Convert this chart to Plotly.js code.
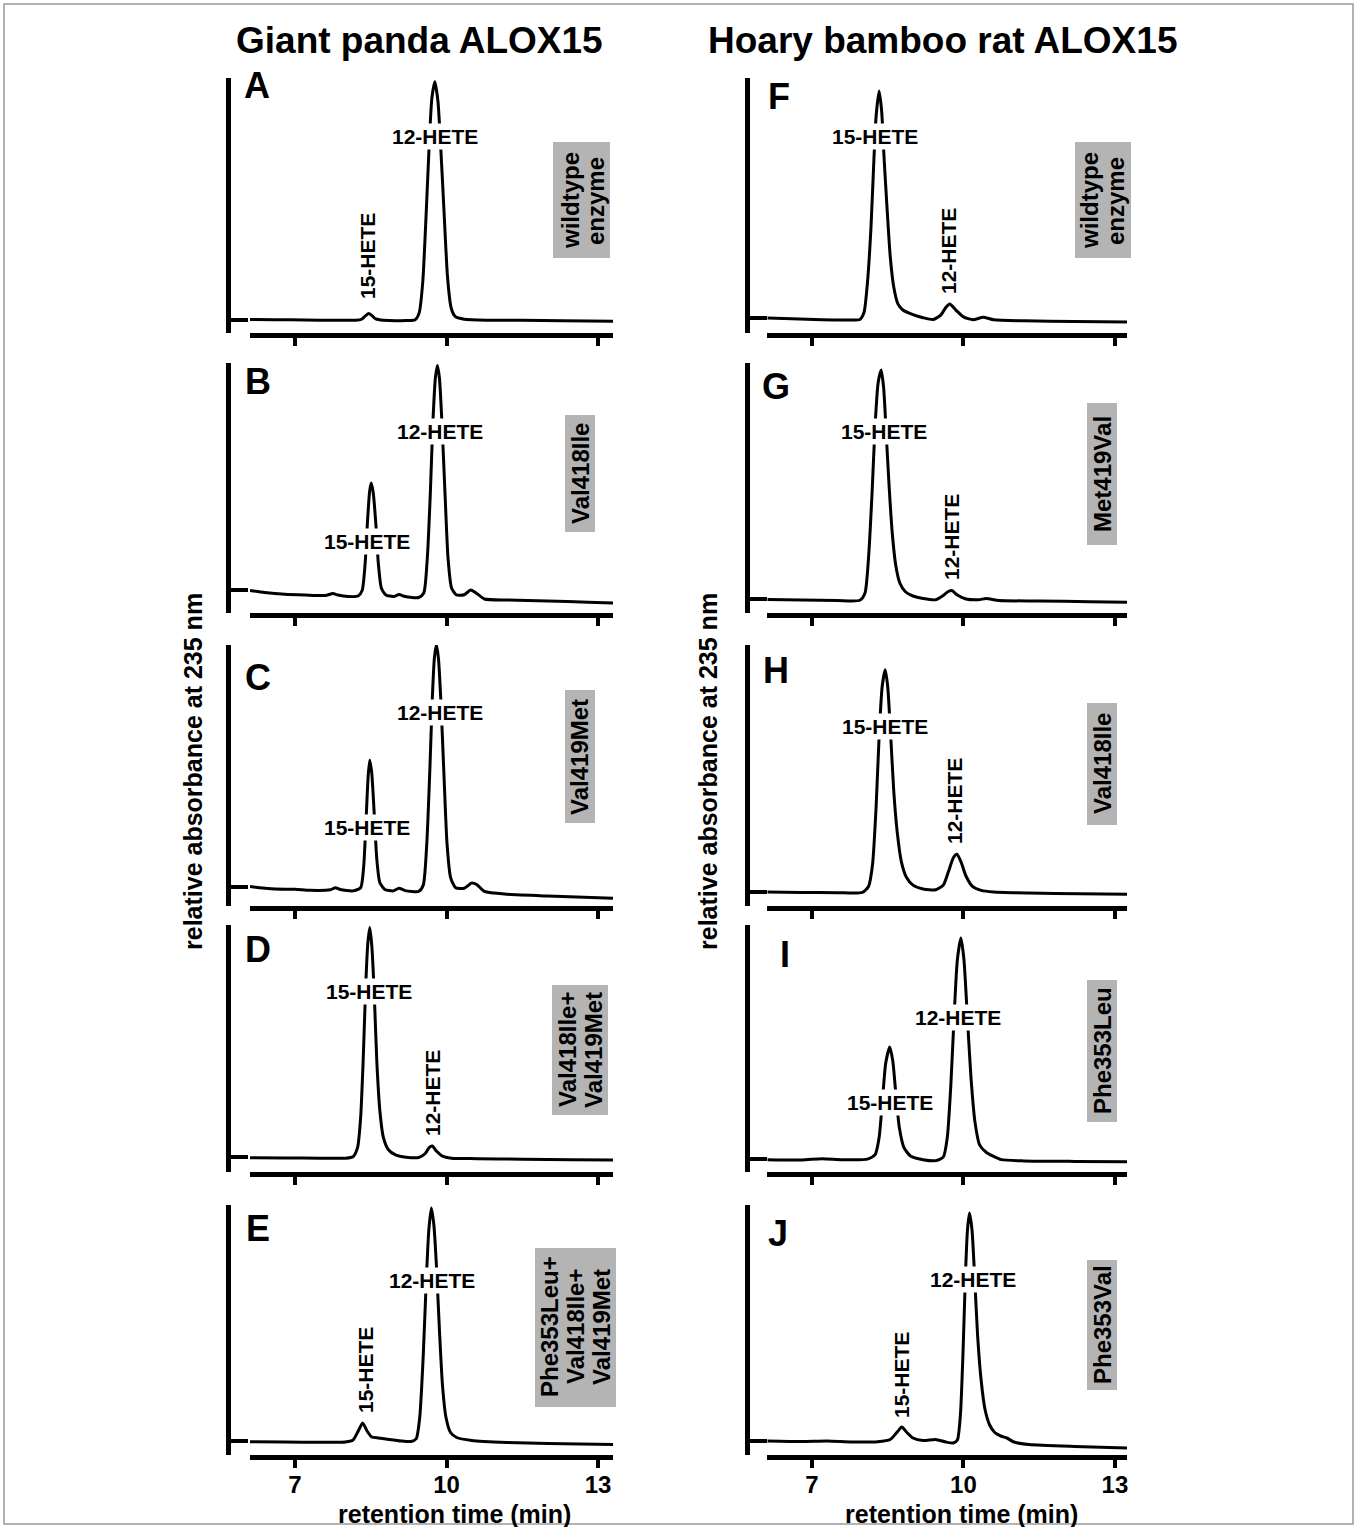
<!DOCTYPE html>
<html><head><meta charset="utf-8">
<script src="https://cdn.plot.ly/plotly-3.0.1.min.js"></script>
<style>html,body{margin:0;padding:0;background:#fff;} #chart{width:1357px;height:1527px;}</style>
</head><body><div id="chart"></div>
<script>
// ---------------- data ----------------
const columnTitles = ['Giant panda ALOX15', 'Hoary bamboo rat ALOX15'];
const panelLetters = ['A','B','C','D','E','F','G','H','I','J'];
const enzymeLabels = [['wildtype','enzyme'],['Val418Ile'],['Val419Met'],['Val418Ile+','Val419Met'],['Phe353Leu+','Val418Ile+','Val419Met'],
                      ['wildtype','enzyme'],['Met419Val'],['Val418Ile'],['Phe353Leu'],['Phe353Val']];
const peakLabels = [['12-HETE','15-HETE'],['12-HETE','15-HETE'],['12-HETE','15-HETE'],['15-HETE','12-HETE'],['12-HETE','15-HETE'],
                    ['15-HETE','12-HETE'],['15-HETE','12-HETE'],['15-HETE','12-HETE'],['12-HETE','15-HETE'],['12-HETE','15-HETE']];
const tickValues = [7, 10, 13];
const tickLabels = ['7', '10', '13'];
const yAxisTitle = 'relative absorbance at 235 nm';
const xAxisTitle = 'retention time (min)';
const baselineTicks = [5.1, 9.4, 7.3, 6.0, 5.5, 5.9, 5.6, 5.4, 5.2, 5.6];

const timeA = [6.11,6.6,7.2,7.8,8.2,8.32,8.4,8.46,8.52,8.6,8.75,9.2,9.38,9.46,9.53,9.6,9.66,9.71,9.77,9.83,9.88,9.95,10.02,10.09,10.17,10.35,10.8,11.5,12.3,13.3];
const absA  = [5.3,5.2,5.1,5.0,5.0,5.4,6.8,7.6,6.9,5.5,5.0,4.9,5.2,8,20,48,75,92,98.5,91,75,48,22,10,6.5,5.4,5.0,5.0,4.8,4.6];

const timeB = [6.11,6.4,6.8,7.2,7.6,7.75,7.85,8.05,8.25,8.33,8.39,8.44,8.48,8.51,8.55,8.6,8.65,8.71,8.8,8.95,9.06,9.18,9.45,9.55,9.62,9.68,9.73,9.78,9.82,9.86,9.91,9.97,10.03,10.1,10.2,10.35,10.48,10.6,10.75,11.2,12.0,12.8,13.3];
const absB  = [9.0,8.2,7.5,7.2,7.0,7.8,7.2,6.6,6.8,9,20,38,49,52,48,36,20,10,7.2,6.6,7.4,6.6,6.2,8,22,48,76,94,99,94,76,48,22,10,7.2,7.3,9.2,7.8,5.6,5.2,4.8,4.3,4.0];

const timeC = [6.11,6.3,6.6,7.0,7.3,7.7,7.8,7.9,8.15,8.3,8.36,8.41,8.45,8.48,8.52,8.57,8.62,8.68,8.78,8.95,9.06,9.18,9.45,9.54,9.61,9.67,9.72,9.76,9.8,9.84,9.89,9.95,10.01,10.08,10.18,10.35,10.5,10.6,10.75,11.2,12,13.3];
const absC  = [7.5,7.0,6.5,6.4,6.0,6.2,7.0,6.3,5.8,7,15,34,50,55.8,51,35,18,9,6.3,5.8,6.8,5.9,5.6,8,24,52,80,95,100,95,78,50,24,11,7.0,6.8,8.8,8.2,5.6,4.5,3.8,3.0];

const timeD = [6.11,6.8,7.5,8.0,8.15,8.24,8.3,8.35,8.4,8.44,8.48,8.52,8.57,8.62,8.68,8.75,8.85,9.0,9.2,9.45,9.58,9.66,9.72,9.8,9.92,10.1,10.6,11.5,12.5,13.3];
const absD  = [5.8,5.7,5.6,5.6,6.2,10,22,45,75,92,99,92,72,45,25,14,9,6.8,6.0,5.9,7.5,10,10.5,8.5,6.4,5.6,5.4,5.2,5.0,4.9];

const timeE = [6.11,6.8,7.5,8.0,8.15,8.25,8.34,8.43,8.52,8.65,8.8,9.1,9.3,9.4,9.47,9.54,9.6,9.65,9.7,9.75,9.8,9.86,9.92,9.99,10.08,10.2,10.5,11.2,12,13.3];
const absE  = [5.3,5.2,5.1,5.2,6,9.5,12.8,9.5,7.2,6.8,6.4,5.6,5.4,6.5,15,40,70,90,98.8,92,76,50,28,15,9,7,5.8,5.0,4.6,4.2];

const timeF = [6.12,6.6,7.2,7.7,7.95,8.03,8.1,8.17,8.22,8.27,8.33,8.38,8.43,8.49,8.55,8.62,8.7,8.8,9.0,9.2,9.4,9.55,9.65,9.73,9.85,10.0,10.19,10.39,10.6,11.2,12.2,13.24];
const absF  = [5.9,5.6,5.2,5.1,5.3,8,20,42,65,85,94.9,87,68,48,30,18,11.5,9,7.2,6,5.3,7,10,11.4,9,6.3,5.2,6.2,5.2,4.8,4.5,4.3];

const timeG = [6.12,6.8,7.5,7.95,8.05,8.12,8.19,8.25,8.31,8.37,8.42,8.47,8.53,8.59,8.66,8.74,8.85,9.0,9.2,9.45,9.6,9.7,9.77,9.88,10.05,10.3,10.45,10.7,11.5,12.5,13.24];
const absG  = [5.4,5.2,5.0,5.1,8,22,48,75,92,97.2,90,72,50,32,19,12,8.5,6.8,5.8,5.3,7,8.6,9.0,7.2,5.6,5.3,5.8,5.0,4.8,4.5,4.3];

const timeH = [6.12,6.8,7.5,8.0,8.12,8.2,8.27,8.33,8.39,8.45,8.5,8.56,8.62,8.69,8.77,8.87,9.0,9.2,9.45,9.6,9.7,9.8,9.87,9.95,10.05,10.18,10.35,10.6,11.3,12.3,13.24];
const absH  = [5.4,5.2,5.1,5.2,7.5,16,38,65,84,90.5,84,65,44,28,17,11,8,6.5,6.2,8,13,18.5,19.8,17,11.5,7.5,6,5.4,5.0,4.7,4.5];

const timeI = [6.12,6.8,7.2,7.6,8.1,8.25,8.33,8.4,8.46,8.54,8.6,8.66,8.73,8.82,8.95,9.2,9.45,9.6,9.68,9.75,9.82,9.88,9.95,10.01,10.08,10.15,10.23,10.32,10.45,10.58,10.75,11.2,12.2,13.24];
const absI  = [5.0,4.9,5.4,5.0,5.2,7,14,30,44,50.6,45,32,18,10,6.5,5.0,4.6,6,14,35,65,86,94.7,86,62,38,20,11,8,6.5,5,4.5,4.3,4.2];

const timeJ = [6.12,6.8,7.3,7.8,8.3,8.55,8.68,8.78,8.88,9.0,9.2,9.45,9.65,9.8,9.88,9.94,9.99,10.04,10.08,10.12,10.17,10.22,10.28,10.35,10.43,10.52,10.62,10.75,10.86,11.0,11.3,12.2,13.24];
const absJ  = [5.6,5.4,5.6,5.2,5.3,6.2,9,11.2,9,6.8,5.8,6.2,5.2,4.8,6,16,40,72,90,96.8,90,72,48,30,18,12,9,7.5,6.8,5.2,4.2,3.4,2.8];

const seriesTime = [timeA,timeB,timeC,timeD,timeE,timeF,timeG,timeH,timeI,timeJ];
const seriesAbs  = [absA,absB,absC,absD,absE,absF,absG,absH,absI,absJ];

// ---------------- layout geometry (pixels) ----------------
const W = 1357, H = 1527;
const px = x => x / W, py = y => 1 - y / H;
const FONT = 'Liberation Sans, Arial, Helvetica, sans-serif';
const cols = [
  {x0: 250, x1: 613, yline: 228, range: [6.11, 13.296]},
  {x0: 767, x1: 1127, yline: 747, range: [6.109, 13.24]}
];
const rowTop = [78, 363, 645, 925, 1205];
const rowBot = [333, 613, 906, 1172, 1455];
const letterPos = [[257,86],[258,381],[258,677],[258,950],[258,1228],[779,96],[776,386],[776,670],[785,954],[778,1233]];
const peakPos = [
  [[435,136,0],[368,256,-90]],
  [[440,431,0],[367,541,0]],
  [[440,712,0],[367,827,0]],
  [[369,992,0],[432,1093,-90]],
  [[432,1280,0],[365,1370,-90]],
  [[875,136,0],[948,251,-90]],
  [[884,431,0],[952,537,-90]],
  [[885,726,0],[954,801,-90]],
  [[958,1017,0],[890,1102,0]],
  [[973,1279,0],[901,1375,-90]]
];
const boxPos = [
  {r:[553,142,610,258], lx:[571,596], cy:201},
  {r:[565,415,595,532], lx:[580], cy:474},
  {r:[565,690,595,823], lx:[580], cy:757},
  {r:[552,985,608,1115], lx:[567,593], cy:1050},
  {r:[535,1248,616,1407], lx:[549,575,601], cy:1327},
  {r:[1075,142,1131,258], lx:[1090,1116], cy:201},
  {r:[1087,403,1117,545], lx:[1102], cy:474},
  {r:[1087,703,1117,825], lx:[1102], cy:764},
  {r:[1087,980,1117,1122], lx:[1102], cy:1051},
  {r:[1087,1260,1117,1390], lx:[1102], cy:1325}
];

const traces = [];
const layout = {
  width: W, height: H, margin: {l:0, r:0, t:0, b:0},
  paper_bgcolor: '#fff', plot_bgcolor: 'rgba(0,0,0,0)',
  showlegend: false, font: {family: FONT, color: '#000'},
  annotations: [], shapes: []
};

for (let i = 0; i < 10; i++) {
  const c = i < 5 ? 0 : 1, r = i % 5, n = i + 1;
  const col = cols[c];
  const xa = 'xaxis' + n, ya = 'yaxis' + n;
  traces.push({
    type: 'scatter', mode: 'lines', x: seriesTime[i], y: seriesAbs[i],
    xaxis: 'x' + n, yaxis: 'y' + n, hoverinfo: 'skip',
    line: {color: '#000', width: 3, shape: 'spline', smoothing: 0.6}
  });
  layout[xa] = {
    domain: [px(col.x0), px(col.x1)], range: col.range, anchor: 'y' + n,
    showline: true, linewidth: 5, linecolor: '#000',
    ticks: 'outside', ticklen: 8, tickwidth: 4, tickcolor: '#000',
    tickmode: 'array', tickvals: tickValues, ticktext: tickLabels,
    showticklabels: r === 4, tickfont: {family: FONT, size: 24, weight: 700},
    ticklabelstandoff: -4,
    showgrid: false, zeroline: false, fixedrange: true
  };
  layout[ya] = {
    domain: [py(rowBot[r]), py(rowTop[r])], range: [0, 100], anchor: 'free', position: px(col.yline),
    showline: true, linewidth: 5, linecolor: '#000',
    ticks: 'inside', ticklen: 17, tickwidth: 4, tickcolor: '#000',
    tickmode: 'array', tickvals: [0, baselineTicks[i]], showticklabels: false,
    showgrid: false, zeroline: false, fixedrange: true
  };
  // panel letter
  layout.annotations.push({xref:'paper', yref:'paper', x: px(letterPos[i][0]), y: py(letterPos[i][1]),
    text: panelLetters[i], showarrow: false, xanchor: 'center', yanchor: 'middle',
    font: {family: FONT, size: 36, weight: 700}});
  // peak labels (white background hides the trace behind them)
  peakLabels[i].forEach((t, k) => {
    const p = peakPos[i][k];
    layout.annotations.push({xref:'paper', yref:'paper', x: px(p[0]), y: py(p[1]), text: t,
      textangle: p[2], showarrow: false, xanchor: 'center', yanchor: 'middle',
      bgcolor: '#ffffff', borderpad: 1,
      font: {family: FONT, size: 21, weight: 700}});
  });
  // enzyme box
  const b = boxPos[i];
  layout.shapes.push({type: 'rect', xref: 'paper', yref: 'paper', layer: 'below',
    x0: px(b.r[0]), x1: px(b.r[2]), y0: py(b.r[3]), y1: py(b.r[1]),
    fillcolor: '#b4b4b4', line: {width: 0}});
  enzymeLabels[i].forEach((t, k) => {
    layout.annotations.push({xref:'paper', yref:'paper', x: px(b.lx[k]), y: py(b.cy), text: t,
      textangle: -90, showarrow: false, xanchor: 'center', yanchor: 'middle',
      font: {family: FONT, size: 24, weight: 700}});
  });
}

// column titles, axis titles
const titleX = [419, 942];
const yTitleX = [193, 708];
const xTitleX = [454, 961];
for (let c = 0; c < 2; c++) {
  layout.annotations.push({xref:'paper', yref:'paper', x: px(titleX[c]), y: py(40), text: columnTitles[c],
    showarrow: false, xanchor: 'center', yanchor: 'middle',
    font: {family: FONT, size: 37, weight: 700}});
  layout.annotations.push({xref:'paper', yref:'paper', x: px(yTitleX[c]), y: py(772), text: yAxisTitle,
    textangle: -90, showarrow: false, xanchor: 'center', yanchor: 'middle',
    font: {family: FONT, size: 25, weight: 700}});
  layout.annotations.push({xref:'paper', yref:'paper', x: px(xTitleX[c]), y: py(1514), text: xAxisTitle,
    showarrow: false, xanchor: 'center', yanchor: 'middle',
    font: {family: FONT, size: 25, weight: 700}});
}
// frame
layout.shapes.push({type:'rect', xref:'paper', yref:'paper', x0: px(4), x1: px(1353), y0: py(1524), y1: py(4),
  line: {color: '#9a9a9a', width: 1.5}, fillcolor: 'rgba(0,0,0,0)'});

Plotly.newPlot('chart', traces, layout, {displayModeBar: false, staticPlot: true});
</script>
</body></html>
